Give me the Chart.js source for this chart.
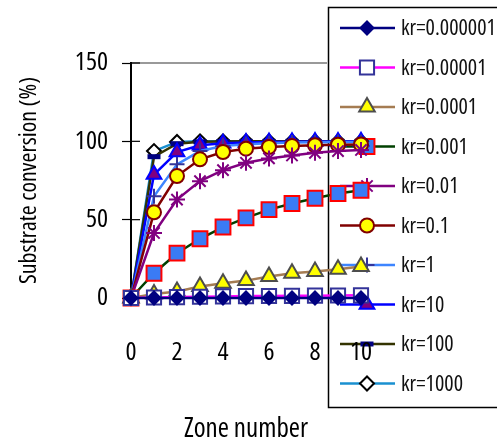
<!DOCTYPE html>
<html>
<head>
<meta charset="utf-8">
<script src="https://cdn.jsdelivr.net/npm/chart.js@4/dist/chart.umd.min.js"></script>
<style>
  html, body { margin: 0; padding: 0; background: #fff; }
  #wrap { width: 497px; height: 446px; }
</style>
</head>
<body>
<div id="wrap"><canvas id="myChart" width="497" height="446"></canvas></div>
<script>
const zones = [0, 1, 2, 3, 4, 5, 6, 7, 8, 9, 10];
const seriesNames = ['kr=0.000001', 'kr=0.00001', 'kr=0.0001', 'kr=0.001', 'kr=0.01',
  'kr=0.1', 'kr=1', 'kr=10', 'kr=100', 'kr=1000'];
const kr1e6 = [0, 0, 0, 0, 0, 0, 0, 0, 0, 0, 0];
const kr1e5 = [0, 0.3, 0.6, 0.8, 1.0, 1.2, 1.3, 1.4, 1.5, 1.6, 1.7];
const kr1e4 = [0, 2.6, 4.1, 7.3, 9.4, 11.1, 13.7, 15.8, 16.9, 18.4, 20.1];
const kr1e3 = [0, 15.8, 28.6, 37.8, 45.3, 51.1, 56.4, 60.3, 63.7, 66.7, 68.8];
const kr1e2 = [0, 41.5, 62.8, 74.6, 81.6, 86.3, 89.1, 91.0, 92.7, 93.8, 94.5];
const kr1e1 = [0, 54.7, 77.8, 88.5, 93.2, 95.3, 96.4, 97.0, 97.5, 97.8, 98.0];
const kr1 = [0, 65.0, 85.3, 93.8, 97.0, 98.2, 98.8, 99.2, 99.4, 99.5, 99.6];
const kr10 = [0, 78.8, 93.2, 97.5, 98.8, 99.3, 99.6, 99.8, 99.9, 99.9, 100];
const kr100 = [0, 90.2, 98.5, 99.7, 99.9, 100, 100, 100, 100, 100, 100];
const kr1000 = [0, 93.8, 99.6, 100, 100, 100, 100, 100, 100, 100, 100];
const yTicks = [0, 50, 100, 150];
const xLabels = [0, 2, 4, 6, 8, 10];

// "condensed" goes in the weight slot so Chart.js builds "condensed NNpx 'Open Sans'"
const FAMILY = "'Open Sans', 'DejaVu Sans', sans-serif";
const STRETCH = 'condensed';

function series(label, values, line, style) {
  return Object.assign({
    label: label,
    data: zones.map((z, i) => ({ x: z, y: values[i] })),
    borderColor: line,
    borderWidth: 2.5,
    pointBorderWidth: 2,
    clip: false,
    tension: 0,
  }, style);
}

const datasets = [
  series(seriesNames[0], kr1e6, '#000080', { pointStyle: 'rectRot', pointRadius: 6.5, pointBackgroundColor: '#000080', pointBorderColor: '#000080' }),
  series(seriesNames[1], kr1e5, '#ff00ff', { pointStyle: 'rect', pointRadius: 10, pointBackgroundColor: '#ffffff', pointBorderColor: '#333399' }),
  series(seriesNames[2], kr1e4, '#a57c52', { pointStyle: 'triangle', pointRadius: 9, pointBackgroundColor: '#ffff00', pointBorderColor: '#4d4d4d' }),
  series(seriesNames[3], kr1e3, '#004000', { pointStyle: 'rect', pointRadius: 10.5, pointBackgroundColor: '#3a7bf5', pointBorderColor: '#ff0000' }),
  series(seriesNames[4], kr1e2, '#800080', { pointStyle: 'star', pointRadius: 8, pointBackgroundColor: '#800080', pointBorderColor: '#800080' }),
  series(seriesNames[5], kr1e1, '#800000', { pointStyle: 'circle', pointRadius: 7, pointBackgroundColor: '#ffff00', pointBorderColor: '#800000' }),
  series(seriesNames[6], kr1, '#3d85ff', { pointStyle: 'cross', pointRadius: 7.5, pointBackgroundColor: '#333399', pointBorderColor: '#333399' }),
  series(seriesNames[7], kr10, '#0000ff', { pointStyle: 'triangle', pointRadius: 8.5, pointBackgroundColor: '#800080', pointBorderColor: '#0000ff' }),
  series(seriesNames[8], kr100, '#333300', { pointStyle: 'line', pointRadius: 6.5, pointBorderWidth: 5, pointBackgroundColor: '#000080', pointBorderColor: '#000080' }),
  series(seriesNames[9], kr1000, '#1a90d0', { pointStyle: 'rectRot', pointRadius: 7, pointBackgroundColor: '#ffffff', pointBorderColor: '#000000' }),
];

// legend box + gray top line, drawn under the scales and data
const boxLegend = {
  id: 'boxLegend',
  beforeDraw(chart) {
    const c = chart.ctx;
    const area = chart.chartArea;
    c.save();
    c.strokeStyle = '#999999';
    c.lineWidth = 2.2;
    c.beginPath();
    c.moveTo(area.left, area.top);
    c.lineTo(327, area.top);
    c.stroke();

    c.strokeStyle = '#000000';
    c.lineWidth = 1.5;
    c.strokeRect(328.5, 7.5, 175, 400);

    c.font = STRETCH + ' 22px ' + FAMILY;
    c.textBaseline = 'middle';
    c.textAlign = 'left';
    chart.data.datasets.forEach((ds, i) => {
      const y = 28 + i * 39.5;
      c.strokeStyle = ds.borderColor;
      c.lineWidth = 2.5;
      c.beginPath();
      c.moveTo(340, y);
      c.lineTo(395, y);
      c.stroke();
      c.fillStyle = ds.pointBackgroundColor;
      c.strokeStyle = ds.pointBorderColor;
      c.lineWidth = ds.pointBorderWidth;
      if (Chart.helpers && Chart.helpers.drawPoint) {
        Chart.helpers.drawPoint(c, { pointStyle: ds.pointStyle, radius: ds.pointRadius, rotation: 0, borderWidth: ds.pointBorderWidth }, 367, y);
      }
      c.fillStyle = '#111111';
      c.fillText(ds.label, 401, y + 1);
    });
    c.restore();
  },
  beforeDatasetsDraw(chart) {
    // inner half of the y tick marks
    const c = chart.ctx;
    const sy = chart.scales.y;
    const left = chart.chartArea.left;
    c.save();
    c.strokeStyle = '#000000';
    c.lineWidth = 1.2;
    yTicks.forEach(v => {
      const py = sy.getPixelForValue(v);
      c.beginPath();
      c.moveTo(left, py);
      c.lineTo(left + 9, py);
      c.stroke();
    });
    c.restore();
  }
};

new Chart(document.getElementById('myChart'), {
  type: 'line',
  data: { datasets: datasets },
  plugins: [boxLegend],
  options: {
    responsive: false,
    animation: false,
    layout: { padding: { top: 63, right: 136, bottom: 0, left: 0 } },
    plugins: { legend: { display: false }, tooltip: { enabled: false } },
    scales: {
      x: {
        type: 'linear',
        min: 0,
        max: 10,
        afterFit(scale) { scale.height = 148; },
        ticks: {
          stepSize: 1,
          autoSkip: false,
          maxRotation: 0,
          padding: 33,
          color: '#000000',
          font: { family: FAMILY, weight: STRETCH, size: 26 },
          callback: v => (xLabels.includes(v) ? String(v) : ''),
        },
        grid: { drawOnChartArea: false, tickLength: 6, tickColor: '#000000', tickWidth: 1 },
        border: { color: '#000000', width: 1 },
        title: {
          display: true,
          text: 'Zone number',
          color: '#000000',
          font: { family: FAMILY, weight: STRETCH, size: 27 },
          padding: { top: 1, bottom: 0 },
        },
      },
      y: {
        min: 0,
        max: 150,
        afterFit(scale) { scale.width = 131; },
        afterBuildTicks(scale) { scale.ticks = yTicks.map(v => ({ value: v })); },
        ticks: {
          padding: 14,
          color: '#000000',
          font: { family: FAMILY, weight: STRETCH, size: 26 },
        },
        grid: { drawOnChartArea: false, tickLength: 9, tickColor: '#000000', tickWidth: 1.2 },
        border: { color: '#000000', width: 2 },
        title: {
          display: true,
          text: 'Substrate conversion (%)',
          color: '#000000',
          font: { family: FAMILY, weight: STRETCH, size: 24 },
          padding: { top: 15, bottom: 0 },
        },
      },
    },
  },
});
</script>
</body>
</html>
